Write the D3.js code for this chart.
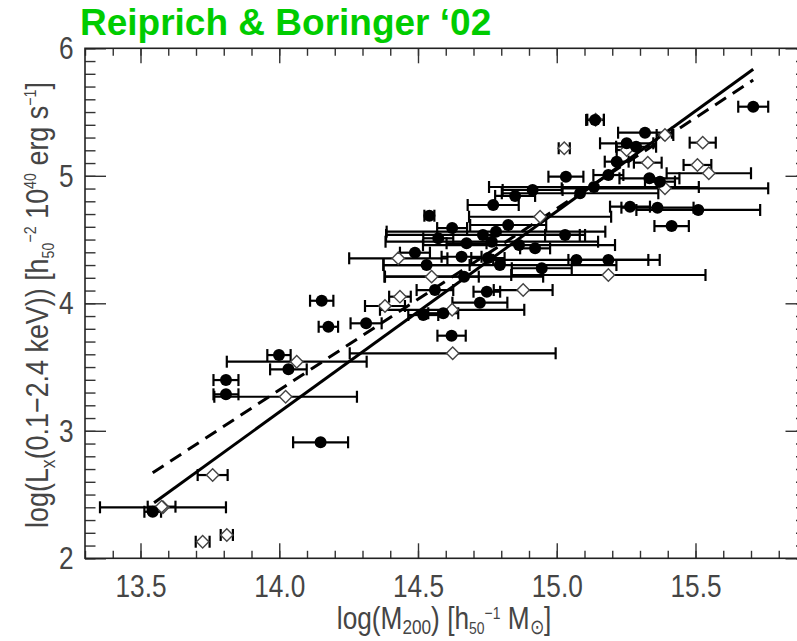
<!DOCTYPE html>
<html><head><meta charset="utf-8">
<script src="https://cdn.jsdelivr.net/npm/d3@7"></script>
<style>body{margin:0;background:#fff;} svg{display:block;}</style>
</head><body>
<svg id="c" width="797" height="641"></svg>
<script>
// ---- data ----
const xTicks = [13.5, 14.0, 14.5, 15.0, 15.5];
const yTicks = [2, 3, 4, 5, 6];
// fit lines (endpoints)
const solidFitLogM = [13.549, 15.708];
const solidFitLogL = [2.436, 5.835];
const dashFitLogM = [13.544, 15.708];
const dashFitLogL = [2.671, 5.751];
// filled circles: log M200, log Lx, error in log M
const filledLogM = [15.708,15.138,15.318,15.252,15.286,15.216,15.186,15.033,15.334,15.372,15.134,14.913,14.850,15.084,14.771,15.264,15.363,15.510,15.414,14.541,14.825,14.781,14.734,14.623,15.030,14.766,14.573,14.675,14.864,14.922,14.489,14.657,14.752,15.071,15.186,14.531,14.946,14.795,14.666,14.561,14.748,14.723,14.519,14.591,14.621,14.153,14.177,14.313,13.999,14.033,13.808,13.808,14.149,13.544];
const filledLogL = [5.542,5.438,5.338,5.255,5.228,5.111,5.006,4.993,4.980,4.954,4.912,4.889,4.842,4.863,4.771,4.758,4.750,4.732,4.606,4.687,4.614,4.562,4.536,4.590,4.536,4.483,4.510,4.471,4.457,4.431,4.397,4.365,4.355,4.340,4.340,4.300,4.275,4.300,4.209,4.104,4.091,4.005,3.908,3.922,3.746,4.020,3.816,3.843,3.594,3.482,3.398,3.286,2.910,2.365];
const filledErr  = [0.054,0.032,0.097,0.096,0.072,0.043,0.054,0.063,0.108,0.054,0.378,0.108,0.072,0.282,0.092,0.072,0.130,0.223,0.062,0.018,0.137,0.394,0.349,0.054,0.072,0.383,0.054,0.072,0.346,0.054,0.054,0.072,0.060,0.300,0.144,0.155,0.108,0.420,0.285,0.066,0.048,0.099,0.054,0.054,0.051,0.042,0.035,0.056,0.042,0.066,0.045,0.045,0.099,0.030];
// open diamonds
const openLogM = [15.390,15.526,15.027,15.252,15.328,15.507,15.548,15.390,14.940,14.429,15.186,14.549,14.879,14.435,14.623,14.381,14.625,14.063,14.023,13.760,13.581,13.576,13.724,13.811,15.140];
const openLogL = [5.320,5.260,5.216,5.202,5.103,5.085,5.020,4.902,4.679,4.353,4.222,4.209,4.104,4.052,3.949,3.979,3.608,3.542,3.267,2.653,2.400,2.405,2.130,2.183,5.440];
const openErr  = [0.030,0.047,0.020,0.036,0.050,0.050,0.152,0.372,0.256,0.177,0.350,0.170,0.106,0.039,0.260,0.072,0.371,0.252,0.257,0.054,0.227,0.050,0.025,0.022,0.030];

// ---- chart ----
const svg = d3.select("#c");
const L = 85, R = 806.5, T = 48.3, B = 558.3;
const x = d3.scaleLinear().domain([13.3, 15.9]).range([L, R]);
const y = d3.scaleLinear().domain([2, 6]).range([B, T]);
const axisColor = "#333";
const textColor = "#454545";
const font = "'Liberation Sans', Arial, sans-serif";

const xMinor = d3.range(133, 160).map(v => v / 10);
const yMinor = d3.range(20, 61).map(v => v / 10);

function styleAxis(g) {
  g.select(".domain").remove();
  g.selectAll("line").attr("stroke", axisColor).attr("stroke-width", 1.4);
}
// bottom
svg.append("g").attr("transform", `translate(0,${B})`)
  .call(d3.axisBottom(x).tickValues(xMinor).tickSize(-7.5).tickFormat("")).call(styleAxis);
const bx = svg.append("g").attr("transform", `translate(0,${B})`)
  .call(d3.axisBottom(x).tickValues(xTicks).tickSize(-15).tickPadding(16).tickFormat(d3.format(".1f")));
styleAxis(bx);
bx.selectAll("text").attr("font-family", font).attr("font-size", 32).attr("fill", textColor)
  .attr("transform", "scale(0.82,1)");
// top
svg.append("g").attr("transform", `translate(0,${T})`)
  .call(d3.axisTop(x).tickValues(xMinor).tickSize(-7.5).tickFormat("")).call(styleAxis);
svg.append("g").attr("transform", `translate(0,${T})`)
  .call(d3.axisTop(x).tickValues(xTicks).tickSize(-15).tickFormat("")).call(styleAxis);
// left
svg.append("g").attr("transform", `translate(${L},0)`)
  .call(d3.axisLeft(y).tickValues(yMinor).tickSize(-10.5).tickFormat("")).call(styleAxis);
const ly = svg.append("g").attr("transform", `translate(${L},0)`)
  .call(d3.axisLeft(y).tickValues(yTicks).tickSize(-21).tickPadding(14).tickFormat(d3.format("d")));
styleAxis(ly);
ly.selectAll("text").attr("font-family", font).attr("font-size", 32).attr("fill", textColor)
  .attr("transform", "scale(0.82,1)");
// right
svg.append("g").attr("transform", `translate(${R},0)`)
  .call(d3.axisRight(y).tickValues(yMinor).tickSize(-10.5).tickFormat("")).call(styleAxis);
svg.append("g").attr("transform", `translate(${R},0)`)
  .call(d3.axisRight(y).tickValues(yTicks).tickSize(-21).tickFormat("")).call(styleAxis);
// frame
svg.append("rect").attr("x", L).attr("y", T).attr("width", R - L).attr("height", B - T)
  .attr("fill", "none").attr("stroke", "#222").attr("stroke-width", 1.6);

// data
const filled = filledLogM.map((m, i) => ({m, l: filledLogL[i], e: filledErr[i]}));
const open = openLogM.map((m, i) => ({m, l: openLogL[i], e: openErr[i]}));
const all = open.concat(filled);

const eb = svg.append("g").attr("stroke", "#000").attr("stroke-width", 2.2).attr("fill", "none");
all.forEach(d => {
  const yy = y(d.l), x0 = x(d.m - d.e), x1 = x(d.m + d.e);
  eb.append("line").attr("x1", x0).attr("x2", x1).attr("y1", yy).attr("y2", yy);
  eb.append("line").attr("x1", x0).attr("x2", x0).attr("y1", yy - 6).attr("y2", yy + 6);
  eb.append("line").attr("x1", x1).attr("x2", x1).attr("y1", yy - 6).attr("y2", yy + 6);
});

// fit lines
const line = d3.line().x(d => x(d[0])).y(d => y(d[1]));
svg.append("path").datum(dashFitLogM.map((m, i) => [m, dashFitLogL[i]]))
  .attr("d", line).attr("fill", "none").attr("stroke", "#000").attr("stroke-width", 3)
  .attr("stroke-dasharray", "13,8");
svg.append("path").datum(solidFitLogM.map((m, i) => [m, solidFitLogL[i]]))
  .attr("d", line).attr("fill", "none").attr("stroke", "#000").attr("stroke-width", 3);

// diamonds
svg.append("g").selectAll("path").data(open).join("path")
  .attr("d", d => { const cx = x(d.m), cy = y(d.l), s = 6.2;
    return `M${cx},${cy - s}L${cx + s},${cy}L${cx},${cy + s}L${cx - s},${cy}Z`; })
  .attr("fill", "#fff").attr("stroke", "#444").attr("stroke-width", 1.4);
// filled circles
svg.append("g").selectAll("circle").data(filled).join("circle")
  .attr("cx", d => x(d.m)).attr("cy", d => y(d.l)).attr("r", 6).attr("fill", "#000");

// title
svg.append("text").attr("x", 80).attr("y", 35).attr("font-family", font)
  .attr("font-weight", "bold").attr("font-size", 37).attr("fill", "#0c0")
  .text("Reiprich & Boringer \u201802");

// x label
const xl = svg.append("text").attr("font-family", font).attr("font-size", 32).attr("fill", textColor)
  .attr("text-anchor", "middle").attr("transform", "translate(444,629) scale(0.82,1)");
xl.append("tspan").text("log(M");
xl.append("tspan").attr("font-size", 21).attr("dy", 5).text("200");
xl.append("tspan").attr("dy", -5).text(")  [h");
xl.append("tspan").attr("font-size", 17).attr("dy", 5).text("50");
xl.append("tspan").attr("font-size", 17).attr("dy", -15).text("\u22121");
xl.append("tspan").attr("dy", 10).text(" M");
xl.append("tspan").attr("font-size", 21).attr("dy", 5).text("\u2299");
xl.append("tspan").attr("dy", -5).text("]");

// y label
const yl = svg.append("text").attr("font-family", font).attr("font-size", 32).attr("fill", textColor)
  .attr("text-anchor", "middle").attr("transform", "translate(48,305) rotate(-90) scale(0.84,1)");
yl.append("tspan").text("log(L");
yl.append("tspan").attr("font-size", 21).attr("dy", 7).text("x");
yl.append("tspan").attr("dy", -7).text("(0.1\u22122.4 keV))  [h");
yl.append("tspan").attr("font-size", 17).attr("dy", 6).text("50");
yl.append("tspan").attr("font-size", 17).attr("dy", -18).text("\u22122");
yl.append("tspan").attr("dy", 12).text(" 10");
yl.append("tspan").attr("font-size", 17).attr("dy", -12).text("40");
yl.append("tspan").attr("dy", 12).text(" erg s");
yl.append("tspan").attr("font-size", 17).attr("dy", -12).text("\u22121");
yl.append("tspan").attr("dy", 12).text("]");
</script>
</body></html>
